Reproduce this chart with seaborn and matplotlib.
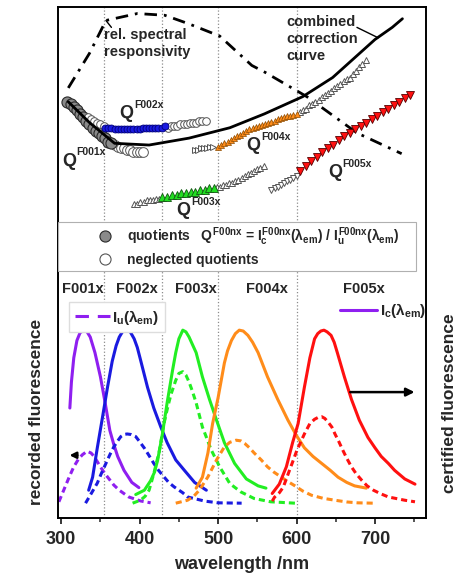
import numpy as np
import pandas as pd
import matplotlib
matplotlib.use("Agg")
import matplotlib.pyplot as plt
import seaborn as sns
from matplotlib.lines import Line2D
from matplotlib.patches import Rectangle
from matplotlib.ticker import MultipleLocator

# ---------------- data (arbitrary units) ----------------
# upper part: spectral responsivity and combined correction curve
resp_wl = [309, 336, 357, 397, 432, 463, 502, 543, 560, 613, 677, 734]
resp_y = [2.40, 2.60, 2.79, 2.83, 2.82, 2.77, 2.70, 2.53, 2.49, 2.35, 2.14, 2.02]
corr_wl = [309, 336, 368, 412, 463, 515, 559, 608, 646, 700, 722, 735]
corr_y = [2.32, 2.20, 2.08, 2.07, 2.11, 2.17, 2.25, 2.35, 2.46, 2.68, 2.75, 2.80]

# quotients (used) and neglected quotients per dye
q1_wl = [308, 312, 316, 320, 324, 328, 332, 336, 340, 344, 348, 352, 356, 360, 364]
q1_y = [2.32, 2.31, 2.29, 2.27, 2.25, 2.23, 2.21, 2.19, 2.17, 2.15, 2.14, 2.12, 2.11, 2.09, 2.08]
n1_wl = [368, 372, 376, 380, 384, 388, 392, 396, 400, 404]
n1_y = [2.07, 2.06, 2.05, 2.05, 2.04, 2.04, 2.03, 2.03, 2.03, 2.03]

n2a_wl = [334, 338, 342, 346, 350, 354]
n2a_y = [2.23, 2.22, 2.21, 2.20, 2.19, 2.18]
q2_wl = [356, 360, 364, 368, 372, 376, 380, 384, 388, 392, 396, 400, 404, 408, 412, 416, 420, 424, 428, 432]
q2_y = [2.17, 2.17, 2.17, 2.16, 2.16, 2.16, 2.16, 2.16, 2.16, 2.16, 2.16, 2.16, 2.17, 2.17, 2.17, 2.17, 2.17, 2.17, 2.17, 2.18]
n2b_wl = [436, 440, 444, 448, 452, 456, 460, 464, 468, 472, 476, 480, 484]
n2b_y = [2.17, 2.18, 2.18, 2.18, 2.19, 2.19, 2.19, 2.20, 2.20, 2.20, 2.21, 2.21, 2.21]

n3a_wl = [393, 397, 401, 405, 409, 413, 417, 421, 425]
n3a_y = [1.73, 1.73, 1.74, 1.74, 1.75, 1.75, 1.75, 1.76, 1.76]
q3_wl = [429, 435, 441, 447, 453, 459, 465, 471, 477, 483, 489, 495]
q3_y = [1.77, 1.77, 1.78, 1.78, 1.79, 1.79, 1.80, 1.80, 1.81, 1.81, 1.82, 1.82]
n3b_wl = [498, 502, 506, 510, 514, 518, 522, 526, 530, 534, 538, 542, 546, 550, 554, 558]
n3b_y = [1.83, 1.83, 1.84, 1.84, 1.85, 1.85, 1.86, 1.87, 1.88, 1.89, 1.90, 1.91, 1.92, 1.93, 1.94, 1.95]

n4a_wl = [470, 474, 478, 482, 486, 490, 494]
n4a_y = [2.04, 2.04, 2.05, 2.05, 2.05, 2.06, 2.06]
q4_wl = [500, 504, 508, 512, 516, 520, 524, 528, 532, 536, 540, 544, 548,
         552, 556, 560, 564, 568, 572, 576, 580, 584, 588, 592, 596, 600]
q4_y = [2.06, 2.07, 2.08, 2.09, 2.10, 2.11, 2.12, 2.13, 2.14, 2.15, 2.16, 2.17, 2.175,
        2.18, 2.185, 2.19, 2.20, 2.205, 2.21, 2.22, 2.225, 2.23, 2.235, 2.24, 2.245, 2.25]
n4b_wl = [604, 608, 612, 616, 620, 624, 628, 632, 636, 640, 644,
          648, 652, 656, 660, 664, 668, 672, 676, 680, 684, 688]
n4b_y = [2.26, 2.27, 2.28, 2.30, 2.31, 2.32, 2.33, 2.35, 2.36, 2.37, 2.38,
         2.40, 2.41, 2.42, 2.44, 2.45, 2.46, 2.48, 2.50, 2.52, 2.54, 2.56]

n5a_wl = [568, 572, 576, 580, 584, 588, 592, 596, 600]
n5a_y = [1.81, 1.82, 1.83, 1.84, 1.85, 1.86, 1.87, 1.88, 1.89]
q5_wl = [605, 612, 619, 626, 633, 640, 647, 654, 661, 668, 675,
         682, 689, 696, 703, 710, 717, 724, 731, 738, 745]
q5_y = [1.92, 1.95, 1.98, 2.00, 2.03, 2.05, 2.07, 2.10, 2.12, 2.14, 2.16,
        2.18, 2.20, 2.22, 2.24, 2.26, 2.28, 2.30, 2.32, 2.34, 2.36]

# lower part: certified (Ic) and recorded (Iu) fluorescence spectra
dyes = ["F001x", "F002x", "F003x", "F004x", "F005x"]
ic_wl = {
    "F001x": [311, 313, 316, 320, 324, 329, 333, 337, 343, 350, 356, 362, 367, 372, 380, 390, 399],
    "F002x": [335, 340, 346, 352, 359, 365, 370, 374, 378, 383, 388, 393, 397, 401, 410, 418,
              427, 435, 446, 457, 470, 485],
    "F003x": [395, 406, 414, 419, 423, 429, 435, 442, 446, 450, 455, 459, 463, 467, 472, 480,
              489, 498, 508, 521, 536, 551, 561],
    "F004x": [472, 480, 487, 493, 500, 508, 512, 517, 522, 527, 532, 538, 544, 551, 563, 576,
              589, 600, 610, 621, 632, 643, 653, 664, 674, 689],
    "F005x": [569, 578, 587, 595, 602, 610, 617, 623, 627, 631, 635, 639, 644, 648, 652, 661,
              670, 680, 691, 700, 708, 717, 725, 738, 751],
}
ic_val = {
    "F001x": [0.55, 0.70, 0.84, 0.94, 0.985, 1.00, 0.99, 0.96, 0.87, 0.73, 0.58, 0.42, 0.34,
              0.27, 0.19, 0.12, 0.09],
    "F002x": [0.075, 0.15, 0.32, 0.48, 0.67, 0.82, 0.91, 0.96, 0.99, 1.00, 0.99, 0.95, 0.90,
              0.83, 0.67, 0.55, 0.44, 0.35, 0.25, 0.19, 0.12, 0.075],
    "F003x": [0.05, 0.075, 0.13, 0.18, 0.25, 0.40, 0.58, 0.77, 0.87, 0.95, 1.00, 0.99, 0.96,
              0.92, 0.87, 0.73, 0.60, 0.48, 0.35, 0.23, 0.14, 0.10, 0.087],
    "F004x": [0.087, 0.15, 0.29, 0.46, 0.61, 0.81, 0.88, 0.94, 0.98, 1.00, 0.995, 0.97, 0.93,
              0.87, 0.73, 0.60, 0.48, 0.39, 0.32, 0.27, 0.23, 0.19, 0.15, 0.12, 0.10, 0.087],
    "F005x": [0.056, 0.11, 0.21, 0.35, 0.46, 0.67, 0.84, 0.95, 0.98, 0.995, 1.00, 0.99, 0.97,
              0.93, 0.87, 0.73, 0.60, 0.48, 0.38, 0.32, 0.27, 0.23, 0.19, 0.14, 0.11],
}
iu_wl = {
    "F001x": [297, 305, 311, 316, 322, 327, 333, 338, 342, 346, 350, 355, 361, 367, 374, 386, 401, 414],
    "F002x": [331, 337, 346, 351, 357, 362, 367, 372, 376, 380, 384, 389, 395, 400, 406, 412,
              418, 424, 431, 437, 444, 455, 461, 483, 500, 530],
    "F003x": [391, 401, 407, 412, 418, 425, 431, 436, 440, 446, 450, 455, 459, 463, 467, 472,
              480, 486, 491, 502, 515, 529, 546, 567, 598],
    "F004x": [446, 461, 469, 476, 487, 498, 508, 515, 523, 529, 534, 540, 546, 555, 563, 571,
              580, 589, 598, 608, 619, 634, 649, 664, 678, 698],
    "F005x": [569, 572, 578, 583, 587, 591, 596, 600, 605, 610, 617, 623, 628, 632, 636, 640,
              645, 649, 654, 659, 664, 670, 676, 683, 690, 698, 707, 717, 738, 751],
}
iu_val = {
    "F001x": [0.008, 0.095, 0.16, 0.21, 0.255, 0.28, 0.30, 0.29, 0.27, 0.24, 0.21, 0.175, 0.14,
              0.105, 0.075, 0.036, 0.013, 0.002],
    "F002x": [0.0, 0.046, 0.116, 0.17, 0.23, 0.28, 0.325, 0.36, 0.385, 0.397, 0.40, 0.397, 0.385,
              0.355, 0.318, 0.275, 0.23, 0.19, 0.152, 0.12, 0.094, 0.06, 0.036, 0.012, 0.002, 0.0],
    "F003x": [0.0, 0.017, 0.04, 0.075, 0.17, 0.30, 0.46, 0.56, 0.63, 0.71, 0.75, 0.76, 0.74,
              0.70, 0.65, 0.58, 0.44, 0.37, 0.31, 0.21, 0.113, 0.065, 0.027, 0.008, 0.0],
    "F004x": [0.0, 0.017, 0.04, 0.075, 0.152, 0.25, 0.325, 0.352, 0.364, 0.36, 0.345, 0.32,
              0.29, 0.25, 0.21, 0.18, 0.152, 0.125, 0.10, 0.07, 0.046, 0.028, 0.017, 0.007,
              0.002, 0.0],
    "F005x": [0.012, 0.035, 0.06, 0.092, 0.14, 0.19, 0.25, 0.30, 0.35, 0.40, 0.46, 0.485, 0.497,
              0.50, 0.49, 0.47, 0.44, 0.40, 0.355, 0.306, 0.26, 0.21, 0.17, 0.133, 0.10, 0.075,
              0.055, 0.036, 0.017, 0.008],
}
dye_colors = ["#8f1ff0", "#1a1ae0", "#22ee22", "#ff8c1a", "#ff1010"]
dividers = [355, 428, 500, 600]

# ---------------- style ----------------
sns.set_style("ticks")
plt.rcParams["font.family"] = ["Liberation Sans", "DejaVu Sans"]
plt.rcParams["font.weight"] = "bold"
plt.rcParams["axes.labelweight"] = "bold"
plt.rcParams["mathtext.fontset"] = "custom"
plt.rcParams["mathtext.rm"] = "Liberation Sans:bold"
plt.rcParams["mathtext.it"] = "Liberation Sans:bold"
plt.rcParams["mathtext.bf"] = "Liberation Sans:bold"

fig = plt.figure(figsize=(4.61, 5.76), dpi=100)
ax = fig.add_axes([0.126, 0.100, 0.798, 0.887])

# spectra with seaborn
rows = []
for d in dyes:
    for w, v in zip(ic_wl[d], ic_val[d]):
        rows.append((d, "Ic", w, v))
    for w, v in zip(iu_wl[d], iu_val[d]):
        rows.append((d, "Iu", w, v))
spec = pd.DataFrame(rows, columns=["dye", "kind", "wl", "I"])
sns.lineplot(data=spec, x="wl", y="I", hue="dye", style="kind",
             palette=dict(zip(dyes, dye_colors)),
             dashes={"Ic": "", "Iu": (2.0, 1.3)},
             estimator=None, sort=True, legend=False, lw=2.2, ax=ax)
for ln in ax.get_lines():
    ln.set_solid_joinstyle("round")
    ln.set_dash_joinstyle("round")

# dotted dividers
for w in dividers:
    ax.axvline(w, color="#8c8c8c", ls=":", lw=0.9, zorder=0)

# upper curves
ax.plot(resp_wl, resp_y, color="black", lw=2.0, ls=(0, (4.5, 2.5, 1.0, 2.5)))

open_kw = dict(ls="", mfc="white", mec="#555555", mew=0.7)
ax.plot(n1_wl, n1_y, marker="o", ms=7, **open_kw)
ax.plot(q1_wl, q1_y, marker="o", ls="", ms=8, mfc="#8a8a8a", mec="#2a2a2a", mew=0.8)
ax.plot(n2a_wl, n2a_y, marker="o", ms=5.5, **open_kw)
ax.plot(n2b_wl, n2b_y, marker="o", ms=5.5, **open_kw)
ax.plot(q2_wl, q2_y, marker="o", ls="", ms=5, mfc="#1a1ae0", mec="#00007a", mew=0.6)
ax.plot(n3a_wl, n3a_y, marker="^", ms=5, **open_kw)
ax.plot(n3b_wl, n3b_y, marker="^", ms=5, **open_kw)
ax.plot(q3_wl, q3_y, marker="^", ls="", ms=5.5, mfc="#22dd22", mec="#115511", mew=0.6)
ax.plot(n4a_wl, n4a_y, marker=">", ms=5, **open_kw)
ax.plot(n4b_wl, n4b_y, marker="^", ms=5, **open_kw)
ax.plot(q4_wl, q4_y, marker="^", ls="", ms=4.5, mfc="#ff8c1a", mec="#8a4a00", mew=0.5)
ax.plot(n5a_wl, n5a_y, marker="v", ms=5, **open_kw)
ax.plot(q5_wl, q5_y, marker="v", ls="", ms=6, mfc="#ff1010", mec="#550000", mew=0.6)
ax.plot(corr_wl, corr_y, color="black", lw=2.0, zorder=2.5)

# Q labels
q_labels = [("F001x", 301, 1.95), ("F002x", 374, 2.225), ("F003x", 447, 1.665),
            ("F004x", 536, 2.04), ("F005x", 640, 1.884)]
for name, x, y in q_labels:
    ax.text(x, y, "Q", fontsize=13, ha="left", va="baseline")
    ax.annotate(name, xy=(x, y), xytext=(10.5, 7.5), textcoords="offset points",
                fontsize=7.5, ha="left", va="baseline")

ax.text(355, 2.745, "rel. spectral\nresponsivity", fontsize=10.5, ha="left", va="top",
        linespacing=1.25)
ax.plot([357, 364], [2.79, 2.75], color="black", lw=1.0)
ax.text(587, 2.82, "combined\ncorrection\ncurve", fontsize=10.5, ha="left", va="top",
        linespacing=1.25)
ax.plot([677, 704], [2.75, 2.69], color="black", lw=1.0)

# dye names
name_pos = [327, 396, 472, 562, 686]
for d, x in zip(dyes, name_pos):
    ax.text(x, 1.237, d, fontsize=10.5, ha="center", va="center")

# arrows
ax.annotate("", xy=(307, 0.277), xytext=(324, 0.277),
            arrowprops=dict(arrowstyle="-|>", color="black", lw=1.8, mutation_scale=9))
ax.annotate("", xy=(754, 0.642), xytext=(665, 0.642),
            arrowprops=dict(arrowstyle="-|>", color="black", lw=1.8, mutation_scale=12))

# quotient legend box
ax.add_patch(Rectangle((0.0, 0.4845), 0.973, 0.0955, transform=ax.transAxes,
                       facecolor="white", edgecolor="#b0b0b0", lw=0.8, zorder=3))
h_q = [Line2D([], [], marker="o", ls="", ms=8, mfc="#8a8a8a", mec="#2a2a2a", mew=0.8),
       Line2D([], [], marker="o", ls="", ms=8, mfc="white", mec="#555555", mew=0.8)]
lab_q = [r"quotients   $Q^{F00nx}$ = $I_c^{F00nx}(\lambda_{em})$ / $I_u^{F00nx}(\lambda_{em})$",
         "neglected quotients"]
leg1 = ax.legend(h_q, lab_q, loc="upper left", bbox_to_anchor=(0.109, 0.574),
                 frameon=False, fontsize=10, handlelength=1.0, handletextpad=1.1,
                 labelspacing=0.35, borderpad=0, borderaxespad=0)
leg1.set_zorder(4)
ax.add_artist(leg1)

leg2 = ax.legend([Line2D([], [], color=dye_colors[0], lw=2.2, ls=(0, (4.4, 2.9)))],
                 [r"$I_u(\lambda_{em})$"], loc="upper left", bbox_to_anchor=(0.031, 0.423),
                 fontsize=11, handlelength=2.3, handletextpad=0.15, borderpad=0.35,
                 borderaxespad=0, fancybox=False, framealpha=1, edgecolor="#dddddd")
ax.add_artist(leg2)
leg3 = ax.legend([Line2D([], [], color=dye_colors[0], lw=2.2)],
                 [r"$I_c(\lambda_{em})$"], loc="center left", bbox_to_anchor=(0.766, 0.406),
                 fontsize=11, handlelength=2.4, handletextpad=0.2, borderpad=0,
                 borderaxespad=0, frameon=False)

# axes
ax.set_xlim(296, 765)
ax.set_ylim(-0.088, 2.865)
ax.set_xticks([300, 400, 500, 600, 700])
ax.xaxis.set_minor_locator(MultipleLocator(50))
ax.set_yticks([])
ax.tick_params(axis="x", which="major", direction="out", length=4, width=1.3,
               labelsize=13, pad=5)
ax.tick_params(axis="x", which="minor", direction="out", length=3, width=1.1)
for s in ax.spines.values():
    s.set_linewidth(1.4)
    s.set_color("black")
ax.set_xlabel("wavelength /nm", fontsize=13, labelpad=6, fontweight="bold")
ax.set_ylabel("")
ax.text(-0.06, 0.209, "recorded fluorescence", transform=ax.transAxes, rotation=90,
        ha="center", va="center", fontsize=12.5)
ax.text(1.065, 0.226, "certified fluorescence", transform=ax.transAxes, rotation=90,
        ha="center", va="center", fontsize=12.5)

fig.savefig("out.png", dpi=100)
